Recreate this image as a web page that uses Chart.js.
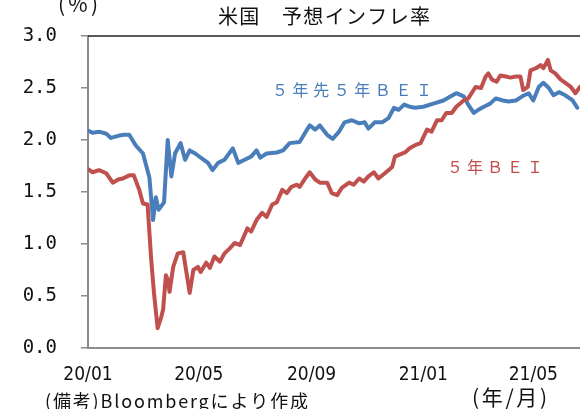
<!DOCTYPE html>
<html>
<head>
<meta charset="utf-8">
<script src="https://cdn.jsdelivr.net/npm/chart.js@4.4.0/dist/chart.umd.min.js"></script>
<style>
  html, body { margin: 0; padding: 0; background: #fff; }
  #wrap { width: 580px; height: 409px; position: relative; }
</style>
</head>
<body>
<div id="wrap"><canvas id="bei"></canvas></div>
<script>
// x = days since 2020-01-01
var tickDays = [0, 121, 244, 366, 486];
var tickLabels = ["20/01", "20/05", "20/09", "21/01", "21/05"];

// 5年先5年BEI
var fwdDays = [0, 5, 12, 20, 25, 33, 39, 45, 52, 60, 67, 71, 74, 77, 83, 87, 91, 95, 101, 106,
    111, 117, 123, 131, 136, 142, 149, 158, 164, 171, 178, 184, 188, 195, 206, 213, 220, 231, 237, 242,
    248, 253, 261, 267, 274, 280, 288, 296, 302, 306, 313, 321, 328, 334, 339, 345, 351, 357, 366, 377,
    388, 396, 402, 410, 415, 421, 426, 432, 439, 445, 453, 459, 467, 474, 481, 486, 492, 497, 503, 508,
    514, 521, 529, 534];
var fwdVals = [2.09, 2.07, 2.08, 2.06, 2.02, 2.04, 2.05, 2.05, 1.95, 1.87, 1.64, 1.23, 1.45, 1.33, 1.40, 2.00, 1.65, 1.87, 1.97, 1.81,
    1.90, 1.87, 1.83, 1.78, 1.71, 1.78, 1.81, 1.92, 1.78, 1.81, 1.84, 1.90, 1.83, 1.87, 1.88, 1.90, 1.97, 1.98, 2.07, 2.14,
    2.10, 2.14, 2.05, 2.01, 2.08, 2.17, 2.19, 2.16, 2.17, 2.11, 2.17, 2.17, 2.21, 2.31, 2.29, 2.34, 2.32, 2.31, 2.32, 2.35,
    2.38, 2.42, 2.45, 2.42, 2.34, 2.26, 2.29, 2.32, 2.35, 2.40, 2.38, 2.37, 2.38, 2.42, 2.45, 2.38, 2.51, 2.55, 2.50, 2.43,
    2.46, 2.43, 2.38, 2.31];

// 5年BEI
var beiDays = [0, 5, 12, 20, 27, 33, 38, 45, 50, 56, 60, 65, 69, 72, 76, 80, 82, 85, 87, 89,
    93, 98, 104, 107, 111, 115, 120, 123, 129, 133, 138, 144, 149, 155, 160, 166, 171, 174, 178, 184,
    190, 195, 201, 206, 212, 217, 222, 228, 231, 237, 242, 248, 253, 261, 266, 272, 277, 285, 290, 296,
    301, 306, 312, 317, 324, 332, 335, 340, 346, 351, 357, 363, 370, 375, 381, 386, 391, 397, 402, 410,
    415, 423, 429, 434, 437, 441, 446, 450, 456, 461, 467, 472, 475, 480, 483, 489, 494, 497, 502, 505,
    510, 516, 521, 527, 532, 537];
var beiVals = [1.72, 1.69, 1.71, 1.68, 1.59, 1.62, 1.63, 1.66, 1.66, 1.52, 1.39, 1.38, 0.85, 0.53, 0.19, 0.30, 0.37, 0.70, 0.66, 0.54,
    0.78, 0.91, 0.92, 0.75, 0.53, 0.75, 0.78, 0.73, 0.82, 0.77, 0.88, 0.83, 0.91, 0.96, 1.01, 0.99, 1.09, 1.15, 1.12, 1.23,
    1.30, 1.26, 1.38, 1.40, 1.52, 1.49, 1.55, 1.57, 1.55, 1.63, 1.69, 1.62, 1.59, 1.59, 1.49, 1.47, 1.54, 1.59, 1.57, 1.63,
    1.60, 1.65, 1.69, 1.63, 1.68, 1.74, 1.84, 1.86, 1.88, 1.92, 1.95, 1.97, 2.10, 2.08, 2.19, 2.19, 2.26, 2.26, 2.32, 2.38,
    2.40, 2.51, 2.50, 2.61, 2.64, 2.58, 2.56, 2.62, 2.61, 2.60, 2.61, 2.61, 2.48, 2.51, 2.67, 2.69, 2.72, 2.69, 2.77, 2.67,
    2.64, 2.58, 2.55, 2.51, 2.45, 2.51];

var BLUE = "#4a7ebb";
var RED = "#c0504d";
var JP = "'Noto Sans CJK JP', sans-serif";

function pts(xs, ys) {
    return xs.map(function(x, i) { return {x: x, y: ys[i]}; });
}

// draw text stretched between left and right
function fitText(ctx, text, left, right, cy, font, color) {
    ctx.font = font;
    ctx.letterSpacing = "0px";
    var w = ctx.measureText(text).width;
    var n = Array.from(text).length;
    var sp = n > 1 ? (right - left - w) / (n - 1) : 0;
    ctx.letterSpacing = sp + "px";
    ctx.fillStyle = color;
    ctx.textAlign = "left";
    ctx.textBaseline = "middle";
    ctx.fillText(text, left, cy);
    ctx.letterSpacing = "0px";
}

var decor = {
    id: "decor",
    afterDraw: function(chart) {
        var ctx = chart.ctx;
        var a = chart.chartArea;
        ctx.save();
        // top frame line
        ctx.strokeStyle = "#222";
        ctx.lineWidth = 1.5;
        ctx.beginPath();
        ctx.moveTo(a.left, a.top);
        ctx.lineTo(a.right, a.top);
        ctx.stroke();

        fitText(ctx, "米国　予想インフレ率", 218, 430, 16, "20px " + JP, "#111");
        fitText(ctx, "(%)", 58, 98, 4, "21px " + JP, "#111");
        fitText(ctx, "５年先５年ＢＥＩ", 272, 432, 90, "16px " + JP, BLUE);
        fitText(ctx, "５年ＢＥＩ", 447, 543, 167, "16px " + JP, RED);
        fitText(ctx, "(年/月)", 472, 547, 397, "21px " + JP, "#111");
        fitText(ctx, "(備考)Bloombergにより作成", 45, 308, 401, "18px " + JP, "#111");
        ctx.restore();
    }
};

new Chart(document.getElementById("bei"), {
    type: "line",
    data: {
        datasets: [{
            label: "5年BEI",
            data: pts(beiDays, beiVals),
            borderColor: RED,
            borderWidth: 4
        }, {
            label: "5年先5年BEI",
            data: pts(fwdDays, fwdVals),
            borderColor: BLUE,
            borderWidth: 4
        }]
    },
    options: {
        responsive: true,
        maintainAspectRatio: false,
        animation: false,
        elements: {
            point: { radius: 0 },
            line: { tension: 0, borderJoinStyle: "round", borderCapStyle: "round" }
        },
        layout: { padding: { top: 36, left: 0, right: 0, bottom: 0 } },
        plugins: { legend: { display: false }, tooltip: { enabled: false } },
        scales: {
            x: {
                type: "linear",
                min: 0,
                max: 537,
                afterFit: function(s) { s.height = 61; },
                afterBuildTicks: function(s) {
                    s.ticks = tickDays.map(function(v) { return {value: v}; });
                },
                ticks: {
                    autoSkip: false,
                    maxRotation: 0,
                    padding: 8,
                    color: "#111",
                    font: { family: "'DejaVu Sans Condensed', 'DejaVu Sans', sans-serif", size: 19 },
                    callback: function(v) {
                        var i = tickDays.indexOf(v);
                        return i >= 0 ? tickLabels[i] : "";
                    }
                },
                grid: { display: false },
                border: { display: true, color: "#8c8c8c", width: 2 }
            },
            y: {
                min: 0,
                max: 3,
                afterFit: function(s) { s.width = 88; },
                ticks: {
                    stepSize: 0.5,
                    padding: 24,
                    color: "#111",
                    font: { family: "'DejaVu Sans Mono', monospace", size: 19 },
                    callback: function(v) { return v.toFixed(1); }
                },
                grid: {
                    display: true,
                    drawOnChartArea: false,
                    drawTicks: true,
                    tickLength: 7,
                    color: "#8c8c8c",
                    lineWidth: 1.5
                },
                border: { display: true, color: "#8c8c8c", width: 2 }
            }
        }
    },
    plugins: [decor]
});
</script>
</body>
</html>
